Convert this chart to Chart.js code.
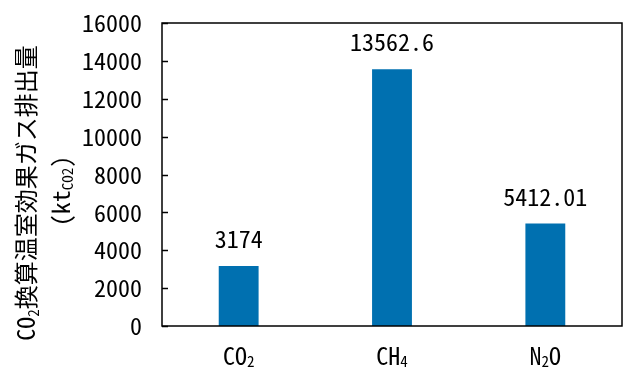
<!DOCTYPE html>
<html>
<head>
<meta charset="utf-8">
<script src="https://cdn.jsdelivr.net/npm/chart.js@4.4.1/dist/chart.umd.min.js"></script>
<style>
html, body { margin: 0; padding: 0; background: #fff; }
#wrap { width: 627px; height: 367px; }
</style>
</head>
<body>
<div id="wrap"><canvas id="chart" width="627" height="367"></canvas></div>
<script>
// Data
const gases = ['CO2', 'CH4', 'N2O'];
const emissions = [3174, 13562.6, 5412.01];
const valueLabels = ['3174', '13562.6', '5412.01'];
const yMin = 0;
const yMax = 16000;
const yStep = 2000;

const FONT = "'Noto Sans Mono CJK JP', 'Liberation Sans Narrow', 'Noto Sans CJK JP', sans-serif";
const barColor = '#0070B0';

// 'CO2' -> CO + subscript 2
function formulaParts(str) {
    const parts = [];
    str.split(/(\d+)/).forEach(s => {
        if (s) parts.push({ t: s, sub: /^\d+$/.test(s) });
    });
    return parts;
}

// draw text with subscripts, centered on cx, alphabetic baseline at y
function drawRich(ctx, parts, cx, y, size, subSize, subDrop) {
    let total = 0;
    parts.forEach(p => {
        ctx.font = (p.sub ? subSize : size) + 'px ' + FONT;
        p.w = ctx.measureText(p.t).width;
        total += p.w;
    });
    let x = cx - total / 2;
    ctx.textAlign = 'left';
    ctx.textBaseline = 'alphabetic';
    parts.forEach(p => {
        ctx.font = (p.sub ? subSize : size) + 'px ' + FONT;
        ctx.fillText(p.t, x, y + (p.sub ? subDrop : 0));
        x += p.w;
    });
}

const framePlugin = {
    id: 'frame',
    afterDraw(chart) {
        const ctx = chart.ctx;
        const area = chart.chartArea;
        const yScale = chart.scales.y;
        const xScale = chart.scales.x;
        ctx.save();

        // plot frame
        ctx.strokeStyle = '#000';
        ctx.lineWidth = 1.5;
        ctx.strokeRect(area.left, area.top, area.right - area.left, area.bottom - area.top);

        // inward tick marks
        yScale.ticks.forEach(t => {
            const py = Math.round(yScale.getPixelForValue(t.value)) + 0.5;
            ctx.beginPath();
            ctx.moveTo(area.left, py);
            ctx.lineTo(area.left + 6, py);
            ctx.stroke();
        });

        ctx.fillStyle = '#000';

        // value labels above bars
        const meta = chart.getDatasetMeta(0);
        meta.data.forEach((bar, i) => {
            ctx.font = '24px ' + FONT;
            ctx.textAlign = 'center';
            ctx.textBaseline = 'alphabetic';
            ctx.fillText(valueLabels[i], bar.x, bar.y - 18);
        });

        // category labels with subscripts
        gases.forEach((g, i) => {
            drawRich(ctx, formulaParts(g), xScale.getPixelForValue(i), 365, 24, 15, 2);
        });

        // y axis title
        ctx.save();
        ctx.translate(35, 193);
        ctx.rotate(-Math.PI / 2);
        drawRich(ctx, formulaParts('CO2').concat([{ t: '換算温室効果ガス排出量' }]), 0, 0, 24, 15, 4);
        ctx.restore();

        ctx.save();
        ctx.translate(70, 191);
        ctx.rotate(-Math.PI / 2);
        drawRich(ctx, [{ t: '(kt' }, { t: 'CO2', sub: true }, { t: ')' }], 0, 0, 24, 15, 3);
        ctx.restore();

        ctx.restore();
    }
};

new Chart(document.getElementById('chart'), {
    type: 'bar',
    data: {
        labels: gases,
        datasets: [{
            data: emissions,
            backgroundColor: barColor,
            borderWidth: 0,
            barPercentage: 0.26,
            categoryPercentage: 1
        }]
    },
    options: {
        responsive: false,
        animation: false,
        devicePixelRatio: 1,
        layout: { padding: { top: 23, right: 5, left: 0, bottom: 0 } },
        plugins: { legend: { display: false }, tooltip: { enabled: false } },
        scales: {
            x: {
                grid: { display: false, drawTicks: false },
                border: { display: false },
                ticks: { display: false },
                afterFit(scale) { scale.height = 41; }
            },
            y: {
                min: yMin,
                max: yMax,
                grid: { display: false, drawTicks: false },
                border: { display: false },
                ticks: {
                    stepSize: yStep,
                    padding: 20,
                    color: '#000',
                    font: { size: 24, family: FONT },
                    callback: v => String(v)
                },
                afterFit(scale) {
                    scale.width = 162;
                    scale.paddingTop = 0;
                    scale.paddingBottom = 0;
                }
            }
        }
    },
    plugins: [framePlugin]
});
</script>
</body>
</html>
